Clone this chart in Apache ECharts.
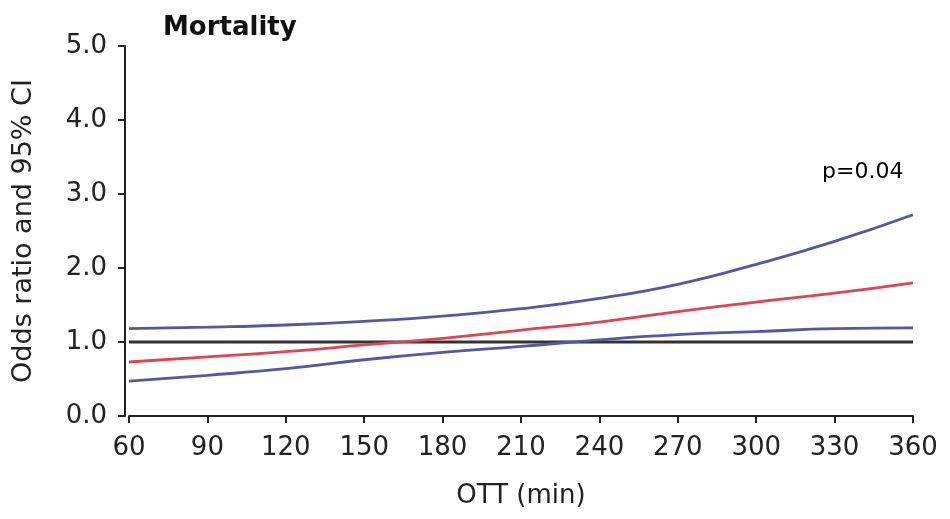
<!DOCTYPE html>
<html>
<head>
<meta charset="utf-8">
<script src="https://cdn.jsdelivr.net/npm/echarts@6/dist/echarts.min.js"></script>
<style>
  html, body { margin: 0; padding: 0; background: #fff; }
  #main { width: 950px; height: 519px; }
</style>
</head>
<body>
<div id="main"></div>
<script>
// OTT in minutes
const ott = [60, 90, 120, 150, 180, 210, 240, 270, 300, 330, 360];
// odds ratio and 95% CI
const oddsRatio = [0.73, 0.80, 0.87, 0.96, 1.05, 1.16, 1.27, 1.41, 1.54, 1.66, 1.80];
const upperCI = [1.18, 1.20, 1.23, 1.28, 1.35, 1.45, 1.59, 1.78, 2.05, 2.36, 2.72];
const lowerCI = [0.47, 0.55, 0.64, 0.76, 0.86, 0.94, 1.03, 1.10, 1.14, 1.18, 1.19];
const refLine = [1.0, 1.0];
const refX = [60, 360];

const pairs = (xs, ys) => xs.map((x, i) => [x, ys[i]]);

const chart = echarts.init(document.getElementById("main"));
const font = "DejaVu Sans";

const option = {
  animation: false,
  backgroundColor: "#fff",
  title: {
    text: "Mortality",
    left: 163,
    top: 15,
    padding: 0,
    textStyle: { fontFamily: font, fontSize: 26, fontWeight: "bold", color: "#111" },
  },
  graphic: [
    {
      type: "text",
      left: 822,
      top: 161,
      style: { text: "p=0.04", fontFamily: font, fontSize: 22, fill: "#000" },
    },
  ],
  grid: { left: 129, right: 37, top: 46, bottom: 103 },
  xAxis: {
    type: "value",
    min: 60,
    max: 360,
    interval: 30,
    offset: 3,
    name: "OTT (min)",
    nameLocation: "middle",
    nameGap: 64,
    nameTextStyle: { fontFamily: font, fontSize: 26, color: "#222" },
    axisLine: { lineStyle: { color: "#222", width: 2 } },
    axisTick: { length: 7, lineStyle: { color: "#222", width: 2 } },
    axisLabel: { fontFamily: font, fontSize: 26, color: "#222", margin: 16 },
    splitLine: { show: false },
  },
  yAxis: {
    type: "value",
    min: 0,
    max: 5,
    interval: 1,
    offset: 4,
    name: "Odds ratio and 95% CI",
    nameLocation: "middle",
    nameGap: 88,
    nameTextStyle: { fontFamily: font, fontSize: 27, color: "#222" },
    axisLine: { show: true, lineStyle: { color: "#222", width: 2 } },
    axisTick: { show: true, length: 7, lineStyle: { color: "#222", width: 2 } },
    axisLabel: {
      fontFamily: font,
      fontSize: 26,
      color: "#222",
      margin: 18,
      formatter: (v) => v.toFixed(1),
    },
    splitLine: { show: false },
  },
  series: [
    {
      name: "reference",
      type: "line",
      data: pairs(refX, refLine),
      symbol: "none",
      lineStyle: { color: "#333", width: 2.8 },
      z: 1,
    },
    {
      name: "upper CI",
      type: "line",
      data: pairs(ott, upperCI),
      smooth: true,
      symbol: "none",
      lineStyle: { color: "#5656a6", width: 2.8 },
    },
    {
      name: "odds ratio",
      type: "line",
      data: pairs(ott, oddsRatio),
      smooth: true,
      symbol: "none",
      lineStyle: { color: "#e04452", width: 2.8 },
    },
    {
      name: "lower CI",
      type: "line",
      data: pairs(ott, lowerCI),
      smooth: true,
      symbol: "none",
      lineStyle: { color: "#5656a6", width: 2.8 },
    },
  ],
};
chart.setOption(option);
</script>
</body>
</html>
